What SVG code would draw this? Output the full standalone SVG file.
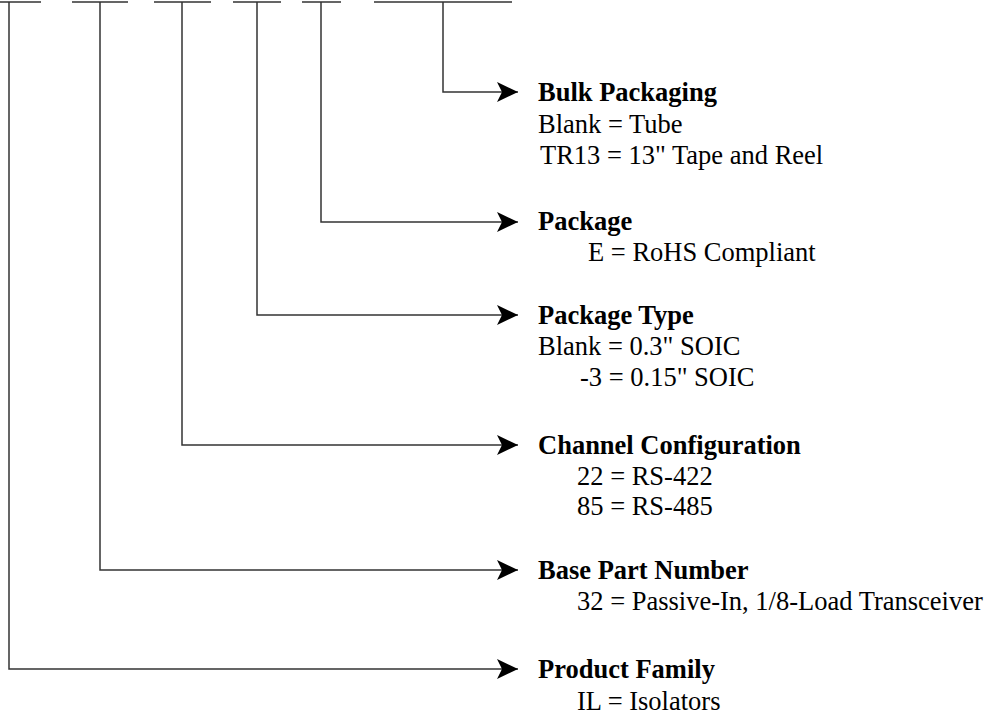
<svg xmlns="http://www.w3.org/2000/svg" width="989" height="715" viewBox="0 0 989 715">
<defs>
<marker id="ah" markerUnits="userSpaceOnUse" markerWidth="22" markerHeight="20" refX="21" refY="10" orient="auto">
<path d="M0,0 L21,10 L0,20 L5,10 Z" fill="#000"/>
</marker>
</defs>
<style>
.ln{stroke:#333;stroke-width:1.5;fill:none}
.t{font-family:"Liberation Serif","Times New Roman",serif;font-size:26.5px;fill:#000}
.b{font-weight:bold}
</style>
<rect width="989" height="715" fill="#fff"/>
<g id="connectors">
<path class="ln" d="M0,2 H41 M72,2 H128 M154,2 H211 M233,2 H281 M302,2 H341 M374,2 H512"/>
<path class="ln" marker-end="url(#ah)" d="M443,2 V92 H518"/>
<path class="ln" marker-end="url(#ah)" d="M321,2 V222 H518"/>
<path class="ln" marker-end="url(#ah)" d="M257,2 V315 H518"/>
<path class="ln" marker-end="url(#ah)" d="M182,2 V445 H518"/>
<path class="ln" marker-end="url(#ah)" d="M100,2 V570 H518"/>
<path class="ln" marker-end="url(#ah)" d="M9,2 V669 H518"/>
</g>
<g id="bulk">
<text class="t b" x="538" y="101">Bulk Packaging</text>
<text class="t" x="538" y="133">Blank = Tube</text>
<text class="t" x="540" y="164">TR13 = 13" Tape and Reel</text>
</g>
<g id="package">
<text class="t b" x="538" y="230">Package</text>
<text class="t" x="588" y="261">E = RoHS Compliant</text>
</g>
<g id="package-type">
<text class="t b" x="538" y="324">Package Type</text>
<text class="t" x="538" y="355">Blank = 0.3" SOIC</text>
<text class="t" x="580" y="386">-3 = 0.15" SOIC</text>
</g>
<g id="channel">
<text class="t b" x="538" y="454">Channel Configuration</text>
<text class="t" x="577" y="485">22 = RS-422</text>
<text class="t" x="577" y="515">85 = RS-485</text>
</g>
<g id="base">
<text class="t b" x="538" y="579">Base Part Number</text>
<text class="t" x="577" y="610">32 = Passive-In, 1/8-Load Transceiver</text>
</g>
<g id="family">
<text class="t b" x="538" y="678">Product Family</text>
<text class="t" x="577" y="710">IL = Isolators</text>
</g>
</svg>
